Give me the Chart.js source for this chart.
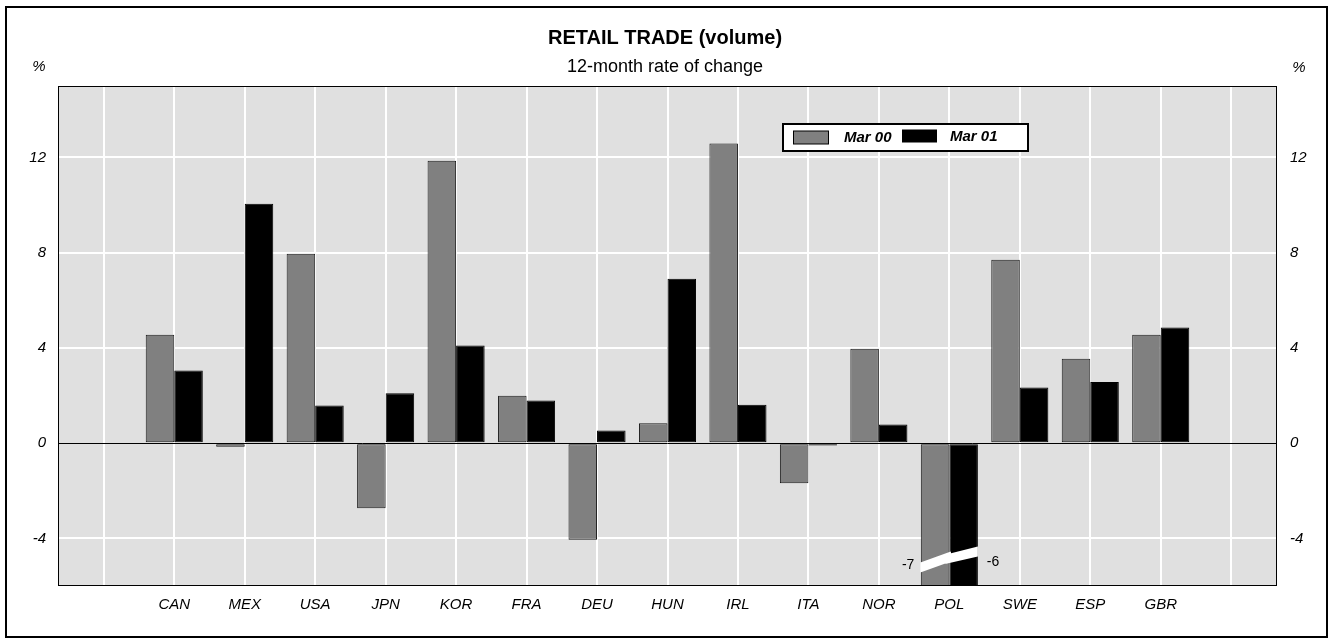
<!DOCTYPE html>
<html>
<head>
<meta charset="utf-8">
<title>Retail trade (volume)</title>
<script src="https://cdn.jsdelivr.net/npm/chart.js@4.4.1/dist/chart.umd.min.js"></script>
<style>
  html, body { margin: 0; padding: 0; background: #fff; }
  #wrap { width: 1330px; height: 644px; }
</style>
</head>
<body>
<div id="wrap"><canvas id="barChart" width="1330" height="644"></canvas></div>
<script>
// values (12-month rate of change, %)
var countries = ["CAN", "MEX", "USA", "JPN", "KOR", "FRA", "DEU", "HUN", "IRL", "ITA", "NOR", "POL", "SWE", "ESP", "GBR"];
var mar00 = [4.55, -0.15, 7.95, -2.73, 11.86, 1.99, -4.06, 0.84, 12.58, -1.68, 3.96, -7, 7.7, 3.54, 4.55];
var mar01 = [3.05, 10.05, 1.58, 2.1, 4.1, 1.79, 0.53, 6.9, 1.61, -0.1, 0.78, -6, 2.34, 2.57, 4.86];
var seriesNames = ["Mar 00", "Mar 01"];
var yTicks = [-4, 0, 4, 8, 12];
var yMin = -6, yMax = 15;
var breakCountry = "POL";  // bars cut off at the bottom, real values written beside them
var breakAt = -5;

var FONT = '"Liberation Sans", Arial, sans-serif';
Chart.defaults.font.family = FONT;
Chart.defaults.color = '#000';

function setYTicks(scale) {
  scale.ticks = yTicks.map(function (v) { return { value: v }; });
}
function setXTicks(scale) {
  var t = [];
  for (var i = -1; i <= countries.length; i++) t.push({ value: i });
  scale.ticks = t;
}

// background, frame, titles, legend, axis break
var decorations = {
  id: 'decorations',
  beforeDraw: function (chart) {
    var c = chart.ctx, a = chart.chartArea;
    c.save();
    c.fillStyle = '#fff';
    c.fillRect(0, 0, chart.width, chart.height);
    c.fillStyle = '#e0e0e0';
    c.fillRect(a.left, a.top, a.right - a.left, a.bottom - a.top);
    c.restore();
  },
  beforeDatasetsDraw: function (chart) {
    var c = chart.ctx, a = chart.chartArea;
    var y0 = Math.round(chart.scales.y.getPixelForValue(0)) + 0.5;
    c.save();
    c.strokeStyle = '#000';
    c.lineWidth = 1;
    c.beginPath();
    c.moveTo(a.left, y0);
    c.lineTo(a.right, y0);
    c.stroke();
    c.restore();
  },
  afterDatasetsDraw: function (chart) {
    var c = chart.ctx;
    var k = countries.indexOf(breakCountry);
    var cx = chart.scales.x.getPixelForValue(k);
    var yb = chart.scales.y.getPixelForValue(breakAt);
    var pts = [[-29, 0.4], [1.5, -10.6], [1.7, -9], [28.5, -15.6], [28.5, -5.6], [-4.3, 1.7], [-3.3, 1.0], [-29, 10.4]];
    c.save();
    c.fillStyle = '#fff';
    c.beginPath();
    pts.forEach(function (p, i) {
      if (i === 0) c.moveTo(cx + p[0], yb + p[1]); else c.lineTo(cx + p[0], yb + p[1]);
    });
    c.closePath();
    c.fill();
    c.fillStyle = '#000';
    c.font = '14px ' + FONT;
    c.textBaseline = 'middle';
    c.textAlign = 'right';
    c.fillText(String(mar00[k]), cx - 35, yb + 3);
    c.textAlign = 'left';
    c.fillText(String(mar01[k]), cx + 37.5, yb);
    c.restore();
  },
  afterDraw: function (chart) {
    var c = chart.ctx, a = chart.chartArea;
    c.save();
    // plot frame
    c.strokeStyle = '#000';
    c.lineWidth = 1;
    c.strokeRect(a.left + 0.5, a.top + 0.5, a.right - a.left - 1, a.bottom - a.top - 1);
    // outer frame
    c.lineWidth = 2;
    c.strokeRect(6, 7, 1321, 630);

    // titles
    c.fillStyle = '#000';
    c.textAlign = 'center';
    c.textBaseline = 'middle';
    c.font = 'bold 20px ' + FONT;
    c.fillText('RETAIL TRADE (volume)', chart.width / 2, 38);
    c.font = '18px ' + FONT;
    c.fillText('12-month rate of change', chart.width / 2, 67);
    c.font = 'italic 15px ' + FONT;
    c.fillText('%', 39, 67);
    c.fillText('%', 1299, 68);

    // legend
    c.fillStyle = '#fff';
    c.fillRect(783, 124, 245, 27);
    c.lineWidth = 2;
    c.strokeStyle = '#000';
    c.strokeRect(783, 124, 245, 27);
    var ds = chart.data.datasets;
    c.lineWidth = 1;
    c.fillStyle = ds[0].backgroundColor;
    c.fillRect(793.5, 131, 35, 13);
    c.strokeRect(793.5, 131, 35, 13);
    c.fillStyle = ds[1].backgroundColor;
    c.fillRect(902, 129.5, 35, 13);
    c.fillStyle = '#000';
    c.textAlign = 'left';
    c.font = 'bold italic 15px ' + FONT;
    c.fillText(ds[0].label, 844, 138);
    c.fillText(ds[1].label, 950, 137);
    c.restore();
  }
};

var ctx = document.getElementById('barChart').getContext('2d');
var myBarChart = new Chart(ctx, {
  type: 'bar',
  data: {
    datasets: [{
        label: seriesNames[0],
        data: mar00.map(function (v, i) { return { x: i, y: v }; }),
        backgroundColor: '#808080',
        borderColor: '#1a1a1a',
        borderWidth: 1,
        borderSkipped: false,
        categoryPercentage: 0.81,
        barPercentage: 1
      },
      {
        label: seriesNames[1],
        data: mar01.map(function (v, i) { return { x: i, y: v }; }),
        backgroundColor: '#000000',
        borderColor: '#000000',
        borderWidth: 1,
        borderSkipped: false,
        categoryPercentage: 0.81,
        barPercentage: 1
      }
    ]
  },
  options: {
    responsive: false,
    animation: false,
    layout: { padding: { top: 86, left: 0, right: 0, bottom: 0 } },
    scales: {
      x: {
        type: 'linear',
        offset: false,
        min: -1.65,
        max: countries.length + 0.65,
        afterBuildTicks: setXTicks,
        afterFit: function (s) { s.height = 58; },
        grid: { offset: false, color: '#ffffff', lineWidth: 2, drawTicks: false },
        border: { display: false },
        ticks: {
          padding: 10,
          autoSkip: false,
          maxRotation: 0,
          font: { size: 15, style: 'italic' },
          callback: function (value) { return countries[value] || ''; }
        }
      },
      y: {
        position: 'left',
        min: yMin,
        max: yMax,
        afterBuildTicks: setYTicks,
        afterFit: function (s) { s.width = 58; },
        grid: {
          color: function (c) { return c.tick.value === 0 ? 'rgba(0,0,0,0)' : '#ffffff'; },
          lineWidth: 2,
          drawTicks: false
        },
        border: { display: false },
        ticks: { padding: 12, font: { size: 15, style: 'italic' } }
      },
      y2: {
        position: 'right',
        min: yMin,
        max: yMax,
        afterBuildTicks: setYTicks,
        afterFit: function (s) { s.width = 53; },
        grid: { drawOnChartArea: false, drawTicks: false },
        border: { display: false },
        ticks: { padding: 13, font: { size: 15, style: 'italic' } }
      }
    },
    plugins: {
      legend: { display: false },
      tooltip: { enabled: false }
    }
  },
  plugins: [decorations]
});
</script>
</body>
</html>
